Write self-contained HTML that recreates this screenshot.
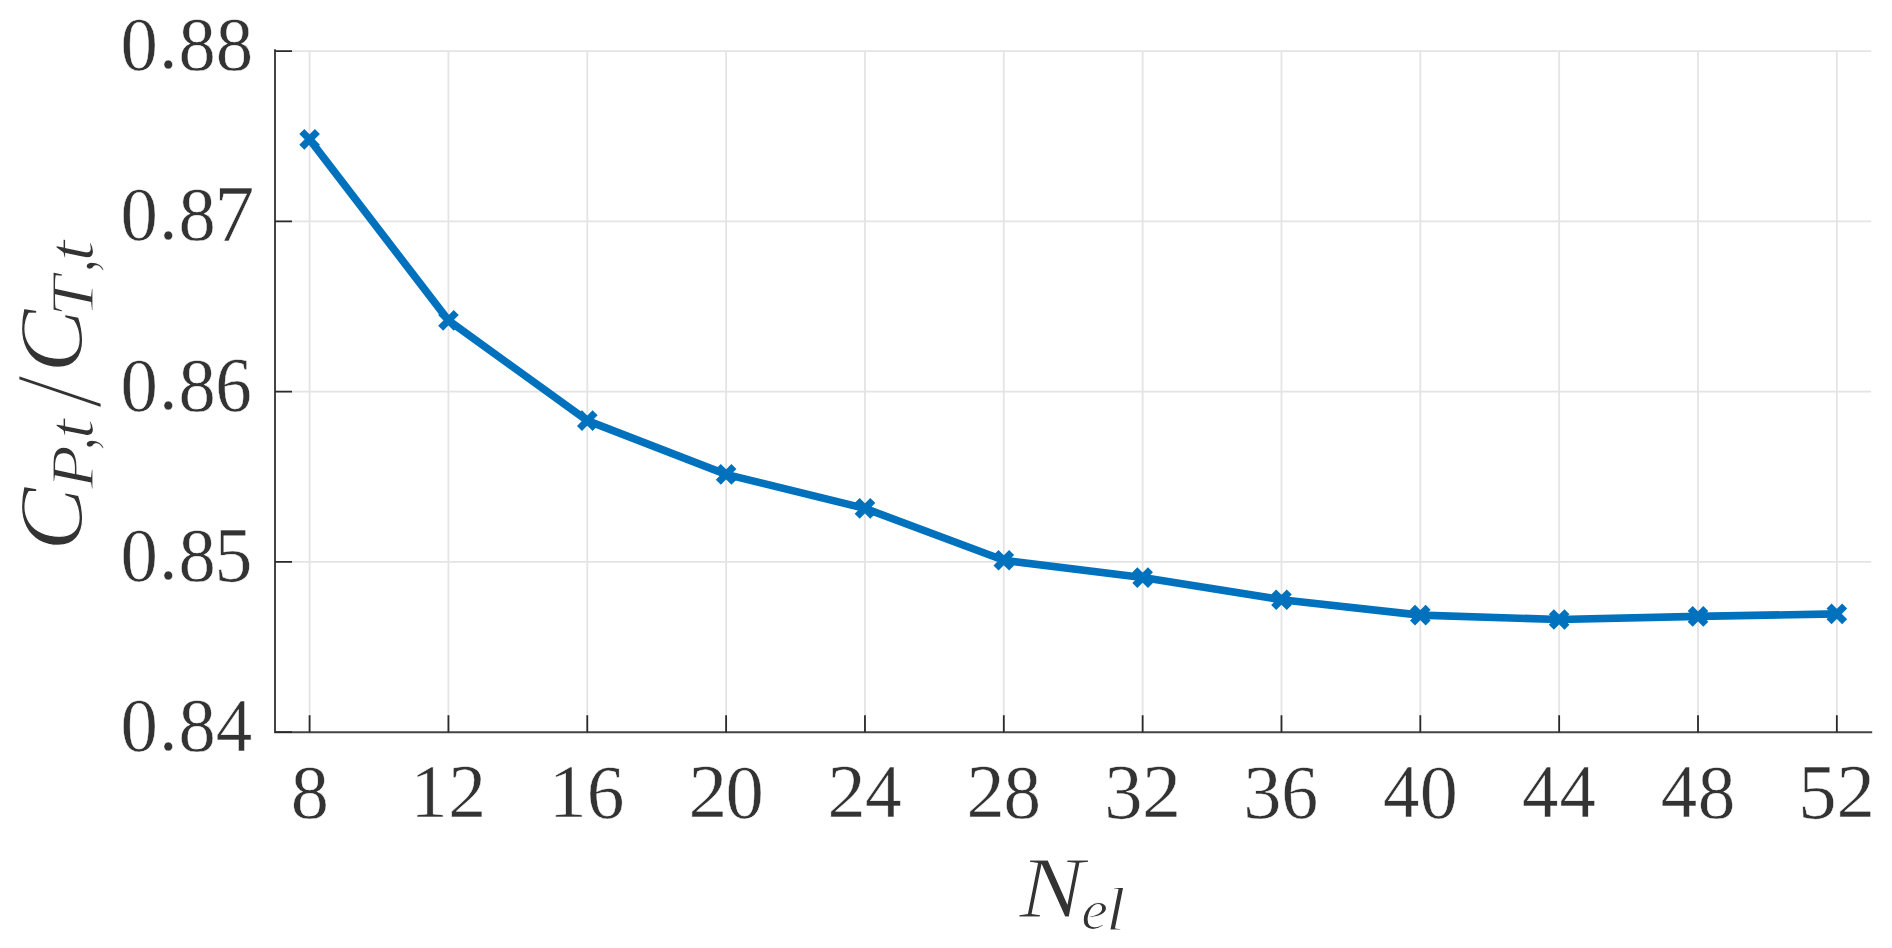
<!DOCTYPE html>
<html><head><meta charset="utf-8"><title>C_P,t / C_T,t vs N_el</title>
<style>html,body{margin:0;padding:0;background:#fff;overflow:hidden}svg{display:block}</style>
</head><body>
<svg width="1892" height="948" viewBox="0 0 1892 948">
<rect width="1892" height="948" fill="#ffffff"/>
<path d="M309.60 51.20V732.20M448.44 51.20V732.20M587.28 51.20V732.20M726.12 51.20V732.20M864.96 51.20V732.20M1003.80 51.20V732.20M1142.64 51.20V732.20M1281.48 51.20V732.20M1420.32 51.20V732.20M1559.16 51.20V732.20M1698.00 51.20V732.20M1836.84 51.20V732.20M275.00 51.20H1871.20M275.00 221.45H1871.20M275.00 391.70H1871.20M275.00 561.95H1871.20" stroke="#e4e4e4" stroke-width="1.8" fill="none"/>
<path d="M275.0 50.300000000000004V732.2H1871.2" stroke="#444444" stroke-width="2.0" fill="none" stroke-linejoin="miter" stroke-linecap="square"/>
<path d="M309.60 732.20V715.20M448.44 732.20V715.20M587.28 732.20V715.20M726.12 732.20V715.20M864.96 732.20V715.20M1003.80 732.20V715.20M1142.64 732.20V715.20M1281.48 732.20V715.20M1420.32 732.20V715.20M1559.16 732.20V715.20M1698.00 732.20V715.20M1836.84 732.20V715.20M275.00 51.20H292.00M275.00 221.45H292.00M275.00 391.70H292.00M275.00 561.95H292.00M275.00 732.20H292.00" stroke="#2a2a2a" stroke-width="1.8" fill="none"/>
<path d="M309.60 139.40 L448.44 320.40 L587.28 420.60 L726.12 474.40 L864.96 508.40 L1003.80 560.30 L1142.64 577.60 L1281.48 599.70 L1420.32 615.10 L1559.16 619.50 L1698.00 616.40 L1836.84 613.90" stroke="#0072BD" stroke-width="7.6" fill="none" stroke-linejoin="round"/>
<path d="M301.80 131.60L317.40 147.20M301.80 147.20L317.40 131.60M440.64 312.60L456.24 328.20M440.64 328.20L456.24 312.60M579.48 412.80L595.08 428.40M579.48 428.40L595.08 412.80M718.32 466.60L733.92 482.20M718.32 482.20L733.92 466.60M857.16 500.60L872.76 516.20M857.16 516.20L872.76 500.60M996.00 552.50L1011.60 568.10M996.00 568.10L1011.60 552.50M1134.84 569.80L1150.44 585.40M1134.84 585.40L1150.44 569.80M1273.68 591.90L1289.28 607.50M1273.68 607.50L1289.28 591.90M1412.52 607.30L1428.12 622.90M1412.52 622.90L1428.12 607.30M1551.36 611.70L1566.96 627.30M1551.36 627.30L1566.96 611.70M1690.20 608.60L1705.80 624.20M1690.20 624.20L1705.80 608.60M1829.04 606.10L1844.64 621.70M1829.04 621.70L1844.64 606.10" stroke="#0072BD" stroke-width="7.1" fill="none" stroke-linecap="butt"/>
<g font-family='"Liberation Serif", "DejaVu Serif", serif' font-size="100" fill="#333333" stroke="#fff">
<text transform="matrix(0.7482 0 0 0.7689 120.44 70.18)" stroke-width="0.659">0</text>
<text transform="matrix(0.7417 0 0 0.7574 158.93 68.31)" stroke-width="0.667">.</text>
<text transform="matrix(0.7459 0 0 0.7689 178.45 70.18)" stroke-width="0.660">8</text>
<text transform="matrix(0.7482 0 0 0.7689 215.64 70.18)" stroke-width="0.659">8</text>
<text transform="matrix(0.7482 0 0 0.7689 120.44 240.48)" stroke-width="0.659">0</text>
<text transform="matrix(0.7417 0 0 0.7574 158.93 238.61)" stroke-width="0.667">.</text>
<text transform="matrix(0.7459 0 0 0.7689 178.45 240.48)" stroke-width="0.660">8</text>
<text transform="matrix(0.7951 0 0 0.8015 214.48 241.25)" stroke-width="0.626">7</text>
<text transform="matrix(0.7482 0 0 0.7689 120.44 410.78)" stroke-width="0.659">0</text>
<text transform="matrix(0.7417 0 0 0.7574 158.93 408.91)" stroke-width="0.667">.</text>
<text transform="matrix(0.7459 0 0 0.7689 178.45 410.78)" stroke-width="0.660">8</text>
<text transform="matrix(0.7322 0 0 0.7717 215.34 410.78)" stroke-width="0.665">6</text>
<text transform="matrix(0.7482 0 0 0.7689 120.44 581.08)" stroke-width="0.659">0</text>
<text transform="matrix(0.7417 0 0 0.7574 158.93 579.21)" stroke-width="0.667">.</text>
<text transform="matrix(0.7459 0 0 0.7689 178.45 581.08)" stroke-width="0.660">8</text>
<text transform="matrix(0.7578 0 0 0.7805 214.49 581.07)" stroke-width="0.650">5</text>
<text transform="matrix(0.7482 0 0 0.7689 120.44 751.38)" stroke-width="0.659">0</text>
<text transform="matrix(0.7417 0 0 0.7574 158.93 749.51)" stroke-width="0.667">.</text>
<text transform="matrix(0.7459 0 0 0.7689 178.45 751.38)" stroke-width="0.660">8</text>
<text transform="matrix(0.7290 0 0 0.7650 215.69 750.55)" stroke-width="0.669">4</text>
<text transform="matrix(0.7635 0 0 0.7689 290.84 817.98)" stroke-width="0.653">8</text>
<text transform="matrix(0.7404 0 0 0.7621 410.47 817.15)" stroke-width="0.666">1</text>
<text transform="matrix(0.7575 0 0 0.7592 448.24 817.15)" stroke-width="0.659">2</text>
<text transform="matrix(0.7518 0 0 0.7621 549.07 817.15)" stroke-width="0.661">1</text>
<text transform="matrix(0.7532 0 0 0.7717 586.65 817.98)" stroke-width="0.656">6</text>
<text transform="matrix(0.7750 0 0 0.7592 688.46 817.15)" stroke-width="0.652">2</text>
<text transform="matrix(0.7671 0 0 0.7689 725.47 817.98)" stroke-width="0.651">0</text>
<text transform="matrix(0.7625 0 0 0.7592 827.52 817.15)" stroke-width="0.657">2</text>
<text transform="matrix(0.7333 0 0 0.7650 864.98 817.15)" stroke-width="0.667">4</text>
<text transform="matrix(0.7625 0 0 0.7592 966.42 817.15)" stroke-width="0.657">2</text>
<text transform="matrix(0.7506 0 0 0.7689 1003.44 817.98)" stroke-width="0.658">8</text>
<text transform="matrix(0.7661 0 0 0.7717 1104.31 817.98)" stroke-width="0.650">3</text>
<text transform="matrix(0.7825 0 0 0.7592 1141.93 817.15)" stroke-width="0.649">2</text>
<text transform="matrix(0.7636 0 0 0.7717 1243.32 817.98)" stroke-width="0.651">3</text>
<text transform="matrix(0.7392 0 0 0.7717 1281.21 817.98)" stroke-width="0.662">6</text>
<text transform="matrix(0.7269 0 0 0.7650 1383.10 817.15)" stroke-width="0.670">4</text>
<text transform="matrix(0.7624 0 0 0.7689 1419.79 817.98)" stroke-width="0.653">0</text>
<text transform="matrix(0.7269 0 0 0.7650 1522.00 817.15)" stroke-width="0.670">4</text>
<text transform="matrix(0.7269 0 0 0.7650 1559.40 817.15)" stroke-width="0.670">4</text>
<text transform="matrix(0.7269 0 0 0.7650 1660.80 817.15)" stroke-width="0.670">4</text>
<text transform="matrix(0.7529 0 0 0.7689 1697.73 817.98)" stroke-width="0.657">8</text>
<text transform="matrix(0.7677 0 0 0.7805 1798.34 817.97)" stroke-width="0.646">5</text>
<text transform="matrix(0.7700 0 0 0.7592 1836.38 817.15)" stroke-width="0.654">2</text>
<text transform="matrix(0.9750 0 0 0.8779 1019.13 916.80)" font-style="italic" stroke-width="1.295">N</text>
<text transform="matrix(0.6013 0 0 0.5750 1081.30 928.92)" font-style="italic" stroke-width="2.040">e</text>
<text transform="matrix(0.6963 0 0 0.6086 1106.04 929.50)" font-style="italic" stroke-width="1.839">l</text>
<text transform="matrix(0 -0.9500 0.9041 0 81.90 550.73)" font-style="italic" stroke-width="1.294">C</text>
<text transform="matrix(0 -0.7119 0.6137 0 93.10 488.74)" font-style="italic" stroke-width="1.810">P</text>
<text transform="matrix(0 -0.5333 0.7294 0 93.18 450.30)" stroke-width="1.901">,</text>
<text transform="matrix(0 -0.7208 0.6620 0 93.34 438.94)" font-style="italic" stroke-width="1.736">t</text>
<text transform="matrix(0 -1.2360 1.2567 0 100.84 408.80)" stroke-width="2.086">/</text>
<text transform="matrix(0 -0.9532 0.9041 0 81.90 372.84)" font-style="italic" stroke-width="1.292">C</text>
<text transform="matrix(0 -0.7345 0.6137 0 93.10 316.97)" font-style="italic" stroke-width="1.780">T</text>
<text transform="matrix(0 -0.5333 0.7294 0 93.18 272.30)" stroke-width="1.901">,</text>
<text transform="matrix(0 -0.7604 0.6620 0 93.34 261.62)" font-style="italic" stroke-width="1.687">t</text>
</g>
</svg>
</body></html>
